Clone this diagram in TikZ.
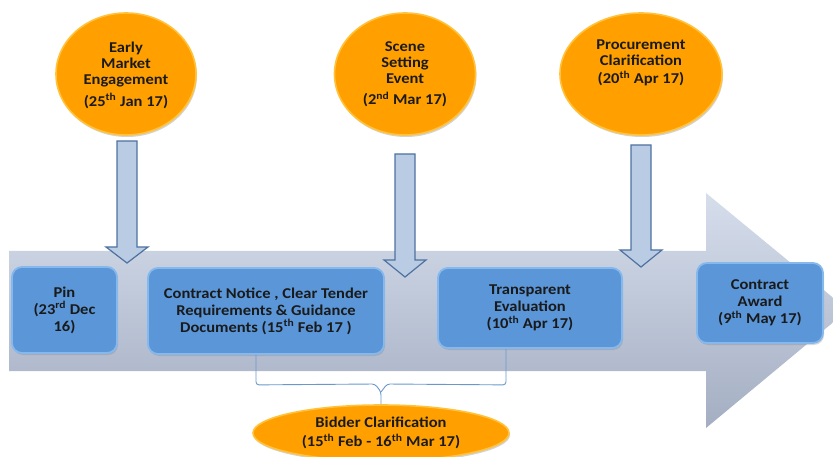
\documentclass[tikz,border=0pt]{standalone}
\usepackage{fontspec}
\setmainfont{Carlito}[BoldFeatures={FakeStretch=1.1}]
\usetikzlibrary{shapes.geometric,shadows}

\definecolor{evtfill}{HTML}{FFA000}
\definecolor{evtrim}{HTML}{FFC23A}
\definecolor{boxfill}{HTML}{5A96D8}
\definecolor{boxrim}{HTML}{85B8EC}
\definecolor{boxedge}{HTML}{4876B4}
\definecolor{flowtop}{HTML}{D6DEEC}
\definecolor{flowbot}{HTML}{A4AEC2}
\definecolor{dropfill}{HTML}{B9CCE4}
\definecolor{dropedge}{HTML}{4F72A0}
\definecolor{bracecol}{HTML}{6A98CC}
\definecolor{inkcol}{HTML}{1A1A1A}

\tikzset{
  evt/.style={ellipse, fill=evtfill, draw=evtrim, line width=1.6pt, inner sep=0pt,
    drop shadow={opacity=0.35, shadow xshift=1pt, shadow yshift=-2pt}},
  stage/.style={rounded corners=10pt, fill=boxfill, draw=boxrim, line width=1.8pt,
    inner sep=2pt, align=center, text=inkcol, font=\bfseries\fontsize{15}{17}\selectfont,
    drop shadow={opacity=0.3, shadow xshift=1pt, shadow yshift=-2pt}},
  lbl/.style={align=center, inner sep=0pt, text=inkcol, font=\bfseries\fontsize{15}{16}\selectfont},
  dropblock/.style={fill=dropfill, draw=dropedge, line width=1.2pt, line join=miter},
  brace/.style={draw=bracecol, line width=0.9pt, rounded corners=3pt},
}
\newcommand{\sth}{\textsuperscript{th}}

% vertical block arrow: centre x, top y, y where the head starts, tip y
\newcommand{\downblock}[4]{%
  \draw[dropblock] ({#1-10},#2) -- ({#1+10},#2) -- ({#1+10},#3) -- ({#1+21},#3)
    -- (#1,#4) -- ({#1-21},#3) -- ({#1-10},#3) -- cycle;}

\begin{document}
\begin{tikzpicture}[x=1pt,y=-1pt]
\useasboundingbox (0,0) rectangle (833,457);

% main timeline arrow
\path[top color=flowtop, bottom color=flowbot]
  (9,251) -- (706,251) -- (706,193) -- (848,310) -- (706,428) -- (706,371) -- (9,371) -- cycle;

% events above the timeline
\node[evt, minimum width=140pt, minimum height=122pt] (early) at (126,74) {};
\node[lbl] (earlyt) at (126,75) {Early\\Market\\Engagement\\[6pt](25\sth{} Jan 17)};
\node[evt, minimum width=141pt, minimum height=122pt] (scene) at (405,74) {};
\node[lbl] (scenet) at (405,74) {Scene\\Setting\\Event\\[5pt](2\textsuperscript{nd} Mar 17)};
\node[evt, minimum width=162pt, minimum height=122pt] (proc) at (641,74) {};
\node[lbl] (proct) at (641,63) {Procurement\\Clarification\\[2pt](20\sth{} Apr 17)};

% block arrows from the events down to the timeline
\downblock{127}{141}{247}{263}
\downblock{405}{154}{260}{277}
\downblock{641}{145}{250}{267}

% stages on the timeline
\node[stage, minimum width=105pt, minimum height=86pt] (pin) at (64.5,310)
  {Pin\\(23\textsuperscript{rd} Dec\\16)};
\node[stage, minimum width=236pt, minimum height=86pt] (notice) at (266,311)
  {Contract Notice , Clear Tender\\Requirements \& Guidance\\Documents (15\sth{} Feb 17 )};
\node[stage, minimum width=184pt, minimum height=80pt] (trans) at (530,308)
  {Transparent\\Evaluation\\(10\sth{} Apr 17)};
\node[stage, minimum width=126pt, minimum height=80pt] (award) at (760,303)
  {Contract\\Award\\(9\sth{} May 17)};

% bidder clarification window
\node[evt, minimum width=256pt, minimum height=56pt, lbl, font=\bfseries\fontsize{15}{19}\selectfont] (bid) at (381,433)
  {Bidder Clarification\\(15\sth{} Feb - 16\sth{} Mar 17)};

\coordinate (bracetip) at (381,392);
\draw[brace] ([xshift=-10pt]notice.south) -- ++(0,30) -- (375,384) -- (bracetip) -- (bid.north);
\draw[brace] ([xshift=-24pt]trans.south) -- ++(0,36) -- (387,384) -- (bracetip);
\end{tikzpicture}
\end{document}
